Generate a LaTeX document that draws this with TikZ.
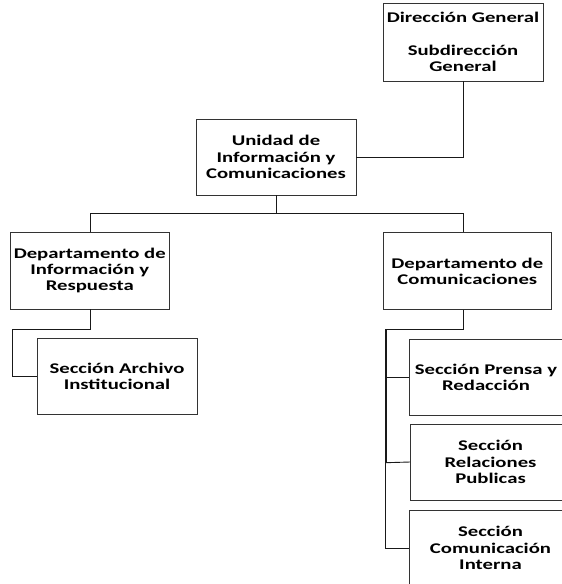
\documentclass[tikz,border=0pt]{standalone}
\usepackage{fontspec}
\newfontfamily\orgfont[FakeStretch=1.40]{Carlito}
\begin{document}
\begin{tikzpicture}[x=1pt,y=-1pt,
  unit/.style={draw=black!80, line width=0.9pt, rectangle, inner sep=0pt,
    align=center, fill=white,
    font=\orgfont\bfseries\fontsize{14.8}{16.2}\selectfont},
  link/.style={draw=black!90, line width=0.9pt},
  trunk/.style={draw=black!90, line width=1.8pt}]
  \useasboundingbox[fill=white] (0,0) rectangle (562,584);
  \clip (0,0) rectangle (562,584);

  % boxes
  \node[unit, minimum width=160pt, minimum height=78pt] (dg) at (463,42)
    {Dirección General\\[16.2pt]Subdirección\\General};
  \node[unit, minimum width=160pt, minimum height=76pt] (uic) at (276,157)
    {Unidad de\\Información y\\Comunicaciones};
  \node[unit, minimum width=159.5pt, minimum height=77pt] (dir) at (89.75,270.5)
    {Departamento de\\Información y\\Respuesta};
  \node[unit, minimum width=168.7pt, minimum height=76.6pt] (dcom) at (467.3,271)
    {Departamento de\\Comunicaciones};
  \node[unit, minimum width=160pt, minimum height=76pt] (arch) at (117,376)
    {Sección Archivo\\Institucional};
  \node[unit, minimum width=154pt, minimum height=76pt] (prensa) at (486,377)
    {Sección Prensa y\\Redacción};
  \node[unit, minimum width=160pt, minimum height=76pt] (rel) at (490.5,462)
    {Sección\\Relaciones\\Publicas};
  \node[unit, minimum width=162pt, minimum height=76pt] (com) at (490.5,548)
    {Sección\\Comunicación\\Interna};

  % junction points
  \coordinate (busL) at (90.7,213);
  \coordinate (busR) at (463,213);
  \coordinate (dirJ) at (90.7,329.5);
  \coordinate (dirL) at (12.7,329.5);
  \coordinate (dcomJ) at (463,329);
  \coordinate (dcomL) at (385.7,329);
  \coordinate (relJ) at (385.7,462.7);

  % connectors
  \draw[link] (dg.south) |- (uic.east);
  \draw[link] (uic.south) -- (uic.south |- busL);
  \draw[link] (busL) -- (busR);
  \draw[link] (busL) -- (busL |- dir.north);
  \draw[link] (busR) -- (busR |- dcom.north);
  \draw[link] (dir.south -| dirJ) -- (dirJ) -- (dirL) |- (arch.west);
  \draw[link] (dcom.south -| dcomJ) -- (dcomJ) -- (dcomL);
  \draw[trunk] (dcomL) -- (relJ);
  \draw[link] (relJ) |- (com.west);
  \draw[link] (dcomL |- prensa.west) -- (prensa.west);
  \draw[link] (relJ) -- (rel.west);
\end{tikzpicture}
\end{document}
